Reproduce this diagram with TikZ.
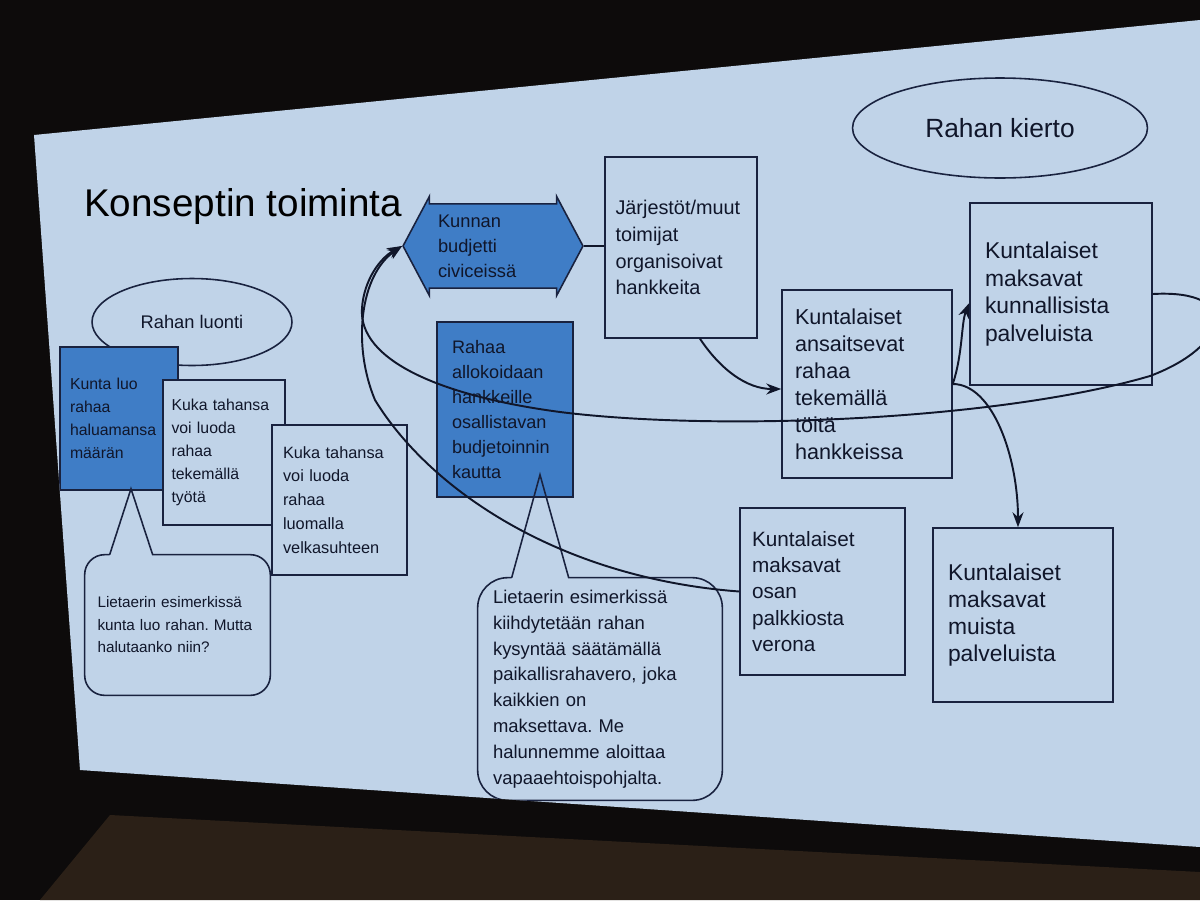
\documentclass[tikz,border=0pt]{standalone}
\usepackage{fontspec}
\setmainfont{Liberation Sans}
\frenchspacing
\usetikzlibrary{arrows.meta,positioning,calc,shapes.geometric,shapes.arrows}
\definecolor{slide}{HTML}{C0D3E8}
\definecolor{slideblue}{HTML}{3F7DC6}
\definecolor{ink}{HTML}{10162A}
\definecolor{navy}{HTML}{19223F}
\definecolor{room}{HTML}{0D0B0B}
\definecolor{tabletop}{HTML}{2B2017}
\newcommand{\fsz}[2]{\fontsize{#1}{#2}\selectfont}
\tikzset{
  >={Stealth[length=3mm,width=2.2mm]},
  % laatikot
  bx/.style={rectangle,draw=navy,line width=0.9pt,fill=slide,text=ink,
             align=left,inner sep=0pt},
  bbx/.style={bx,fill=slideblue},
  ov/.style={ellipse,draw=navy,line width=0.9pt,text=ink,inner sep=0pt},
  bub/.style={draw=navy,line width=0.9pt},
  btxt/.style={text=ink,align=left,inner sep=0pt},
  % nuolet
  fl/.style={->,draw=ink,line width=1.1pt},
  ln/.style={draw=ink,line width=1.1pt},
}

\begin{document}
\begin{tikzpicture}[x=0.02cm,y=-0.02cm]
\useasboundingbox (0,0) rectangle (1200,900);
\fill[room] (0,0) rectangle (1200,900);
\fill[tabletop] (40,900) -- (110,815) -- (1200,872) -- (1200,900) -- cycle;
\fill[slide] (34,135) -- (1200,20) -- (1200,847) -- (80,770) -- cycle;
\begin{scope}
\clip (34,135) -- (1200,20) -- (1200,847) -- (80,770) -- cycle;
  \node[font=\fsz{22}{26},text=black,anchor=west] (otsikko) at (78,207) {Konseptin toiminta};
  \node[ov,minimum width=5.9cm,minimum height=2cm,font=\fsz{15}{18}] (kierto) at (1000,128) {Rahan kierto};
  \node[ov,minimum width=4cm,minimum height=1.74cm,font=\fsz{10.4}{13}] (luonti) at (192,322) {Rahan luonti};
  % rahan luonti
  \node[bbx,minimum width=2.36cm,minimum height=2.86cm,text width=1.96cm,font=\fsz{9}{13}] (kunta) at (119,418.5)
    {Kunta luo\\rahaa\\haluamansa\\määrän};
  \node[bx,minimum width=2.44cm,minimum height=2.9cm,text width=2.1cm,font=\fsz{9}{13}] (tyo) at (224,452.5)
    {Kuka tahansa\\voi luoda\\rahaa\\tekemällä\\työtä};
  \node[bx,minimum width=2.7cm,minimum height=3cm,text width=2.26cm,font=\fsz{9.3}{13.6}] (velka) at (339.5,500)
    {Kuka tahansa\\voi luoda\\rahaa\\luomalla\\velkasuhteen};
  % rahan kierto
  \node[shape=double arrow,fill=slideblue,draw=navy,line width=0.9pt,double arrow head extend=0.15cm,
        double arrow tip angle=124,minimum height=3.6cm,inner xsep=0pt,inner ysep=0.2cm,
        text width=2.2cm,align=left,text=ink,font=\fsz{10.4}{14.2}] (budj) at (493,246)
    {Kunnan\\budjetti\\civiceissä};
  \node[bx,minimum width=3.04cm,minimum height=3.62cm,text width=2.62cm,font=\fsz{11.3}{15.3}] (jar) at (681,247.5)
    {Järjestöt/muut\\toimijat\\organisoivat\\hankkeita};
  \node[bbx,minimum width=2.72cm,minimum height=3.5cm,text width=2.12cm,font=\fsz{10.3}{14.2}] (raha) at (505,409.5)
    {Rahaa\\allokoidaan\\hankkeille\\osallistavan\\budjetoinnin\\kautta};
  \node[bx,minimum width=3.4cm,minimum height=3.76cm,text width=2.88cm,font=\fsz{12.3}{15.4}] (ans) at (867,384)
    {Kuntalaiset\\ansaitsevat\\rahaa\\tekemällä\\töitä\\hankkeissa};
  \node[bx,minimum width=3.64cm,minimum height=3.64cm,text width=3.04cm,font=\fsz{13}{15.8}] (kun) at (1061,294)
    {Kuntalaiset\\maksavat\\kunnallisista\\palveluista};
  \node[bx,minimum width=3.3cm,minimum height=3.34cm,text width=2.82cm,font=\fsz{11.8}{15}] (ver) at (822.5,591.5)
    {Kuntalaiset\\maksavat\\osan\\palkkiosta\\verona};
  \node[bx,minimum width=3.6cm,minimum height=3.48cm,text width=3cm,font=\fsz{13}{15.3}] (mui) at (1023,615)
    {Kuntalaiset\\maksavat\\muista\\palveluista};
  % puhekuplat
  \node[btxt,text width=3.2cm,minimum width=3.7cm,minimum height=2.8cm,font=\fsz{8.7}{12.8}] (huom1) at (177.5,625)
    {Lietaerin esimerkissä\\kunta luo rahan. Mutta\\halutaanko niin?};
  \draw[bub] ($(huom1.north west)+(25,0)$) -- ($(kunta.south)+(12,-2)$) -- ($(huom1.north west)+(68,0)$)
    [rounded corners=0.4cm] -- (huom1.north east) -- (huom1.south east) -- (huom1.south west)
    -- (huom1.north west) [sharp corners] -- ($(huom1.north west)+(25,0)$);
  \node[btxt,text width=4.28cm,minimum width=4.88cm,minimum height=4.44cm,font=\fsz{10.5}{14.7}] (huom2) at (600,689)
    {Lietaerin esimerkissä\\kiihdytetään rahan\\kysyntää säätämällä\\paikallisrahavero, joka\\kaikkien on\\maksettava. Me\\halunnemme aloittaa\\vapaaehtoispohjalta.};
  \draw[bub] ($(huom2.north west)+(34,0)$) -- ($(raha.south)+(35,-23)$) -- ($(huom2.north west)+(91,0)$)
    [rounded corners=0.6cm] -- (huom2.north east) -- (huom2.south east) -- (huom2.south west)
    -- (huom2.north west) [sharp corners] -- ($(huom2.north west)+(34,0)$);
  % yhteydet
  \draw[ln] (budj.east) -- (jar.west |- budj.east);
  \draw[fl] ($(jar.south)+(19,0)$) .. controls +(20,30) and +(-35,0) .. ($(ans.west)+(0,5)$);
  \draw[fl] (ans.east) .. controls +(10,-30) and +(-8,20) .. ($(kun.west)+(0,9)$);
  \draw[fl] (ans.east) .. controls +(40,0) and +(0,-70) .. ($(mui.north)+(-5,0)$);
  \draw[fl] (kun.east) .. controls +(90,-5) and +(80,-30) .. (1150,376)
    .. controls (1000,420) and (720,432) .. (560,412)
    .. controls (440,396) and (358,360) .. (362,308)
    .. controls (364,280) and (380,258) .. (budj.west);
  \draw[fl] (ver.west) .. controls (560,578) and (430,490) .. (375,400)
    .. controls (352,345) and (360,275) .. (budj.west);
\end{scope}
\end{tikzpicture}
\end{document}
